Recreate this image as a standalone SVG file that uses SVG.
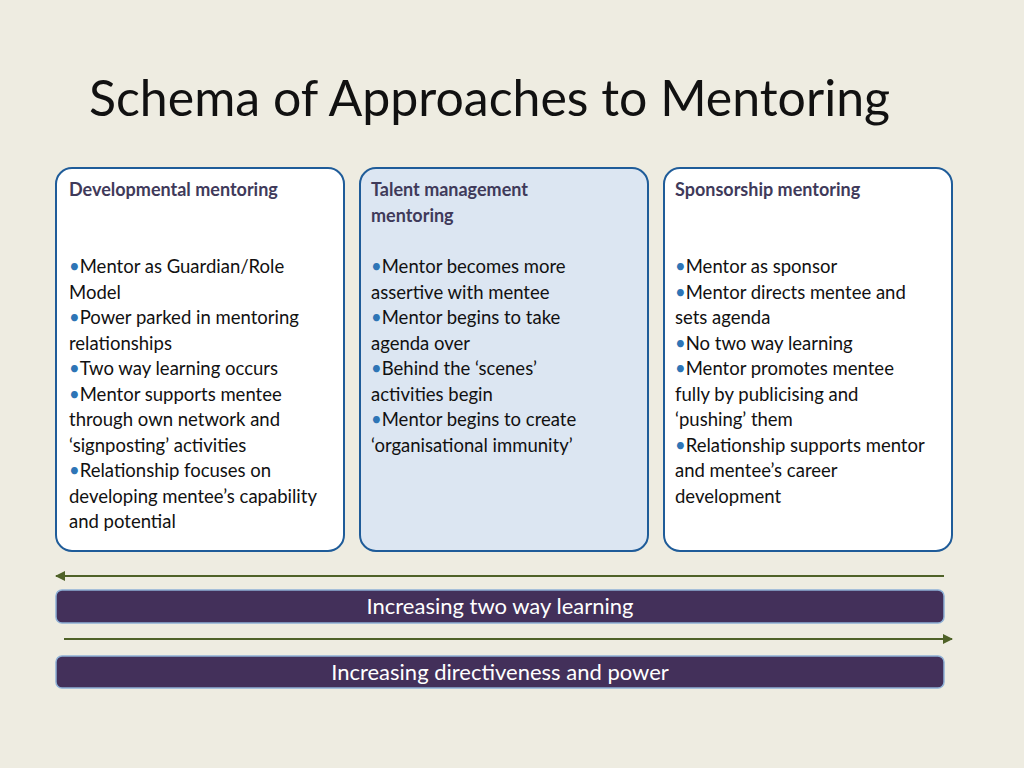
<svg xmlns="http://www.w3.org/2000/svg" width="1024" height="768" viewBox="0 0 1024 768">
<style>
.box{fill:#fff;stroke:#1f5c99;stroke-width:2}
.hd{font-family:Lato,"Open Sans",sans-serif;font-size:18px;font-weight:bold;fill:#3f3a5a}
.bd{font-family:Lato,"Open Sans",sans-serif;font-size:18.5px;fill:#111}
.b{fill:#2e75b6}
.bar{fill:#43305a;stroke:#8eb0d6;stroke-width:1.5}
.bt{font-family:Lato,"Open Sans",sans-serif;font-size:22px;fill:#fff;text-anchor:middle}
.ar{stroke:#4f6228;stroke-width:2;fill:none}
</style>
<defs>
<marker id="ah" viewBox="0 0 10 10" refX="9" refY="5" markerWidth="5" markerHeight="5" orient="auto-start-reverse"><path d="M0,0L10,5L0,10z" fill="#4f6228"/></marker>
</defs>
<rect width="1024" height="768" fill="#eeece1"/>
<text x="89" y="116" font-family="Lato,'Open Sans',sans-serif" font-size="50" fill="#111">Schema of Approaches to Mentoring</text>
<g id="n1">
<rect class="box" x="56" y="168" width="288" height="383" rx="16"/>
<text class="hd" x="69" y="196">Developmental mentoring</text>
<text class="bd"><tspan x="69" y="273"><tspan class="b">•</tspan>Mentor as Guardian/Role</tspan><tspan x="69" y="298.5">Model</tspan><tspan x="69" y="324"><tspan class="b">•</tspan>Power parked in mentoring</tspan><tspan x="69" y="349.5">relationships</tspan><tspan x="69" y="375"><tspan class="b">•</tspan>Two way learning occurs</tspan><tspan x="69" y="400.5"><tspan class="b">•</tspan>Mentor supports mentee</tspan><tspan x="69" y="426">through own network and</tspan><tspan x="69" y="451.5">‘signposting’ activities</tspan><tspan x="69" y="477"><tspan class="b">•</tspan>Relationship focuses on</tspan><tspan x="69" y="502.5">developing mentee’s capability</tspan><tspan x="69" y="528">and potential</tspan></text>
</g>
<g id="n2">
<rect class="box" x="360" y="168" width="288" height="383" rx="16" style="fill:#dce6f2"/>
<text class="hd"><tspan x="371" y="196">Talent management</tspan><tspan x="371" y="222">mentoring</tspan></text>
<text class="bd"><tspan x="371" y="273"><tspan class="b">•</tspan>Mentor becomes more</tspan><tspan x="371" y="298.5">assertive with mentee</tspan><tspan x="371" y="324"><tspan class="b">•</tspan>Mentor begins to take</tspan><tspan x="371" y="349.5">agenda over</tspan><tspan x="371" y="375"><tspan class="b">•</tspan>Behind the ‘scenes’</tspan><tspan x="371" y="400.5">activities begin</tspan><tspan x="371" y="426"><tspan class="b">•</tspan>Mentor begins to create</tspan><tspan x="371" y="451.5">‘organisational immunity’</tspan></text>
</g>
<g id="n3">
<rect class="box" x="664" y="168" width="288" height="383" rx="16"/>
<text class="hd" x="675" y="196">Sponsorship mentoring</text>
<text class="bd"><tspan x="675" y="273"><tspan class="b">•</tspan>Mentor as sponsor</tspan><tspan x="675" y="298.5"><tspan class="b">•</tspan>Mentor directs mentee and</tspan><tspan x="675" y="324">sets agenda</tspan><tspan x="675" y="349.5"><tspan class="b">•</tspan>No two way learning</tspan><tspan x="675" y="375"><tspan class="b">•</tspan>Mentor promotes mentee</tspan><tspan x="675" y="400.5">fully by publicising and</tspan><tspan x="675" y="426">‘pushing’ them</tspan><tspan x="675" y="451.5"><tspan class="b">•</tspan>Relationship supports mentor</tspan><tspan x="675" y="477">and mentee’s career</tspan><tspan x="675" y="502.5">development</tspan></text>
</g>
<g id="connectors">
<line class="ar" x1="944" y1="576" x2="56" y2="576" marker-end="url(#ah)"/>
<line class="ar" x1="64" y1="639" x2="952" y2="639" marker-end="url(#ah)"/>
</g>
<g id="bar1">
<rect class="bar" x="56" y="590" width="888" height="33" rx="6"/>
<text class="bt" x="500" y="614">Increasing two way learning</text>
</g>
<g id="bar2">
<rect class="bar" x="56" y="656" width="888" height="32" rx="6"/>
<text class="bt" x="500" y="680">Increasing directiveness and power</text>
</g>
</svg>
